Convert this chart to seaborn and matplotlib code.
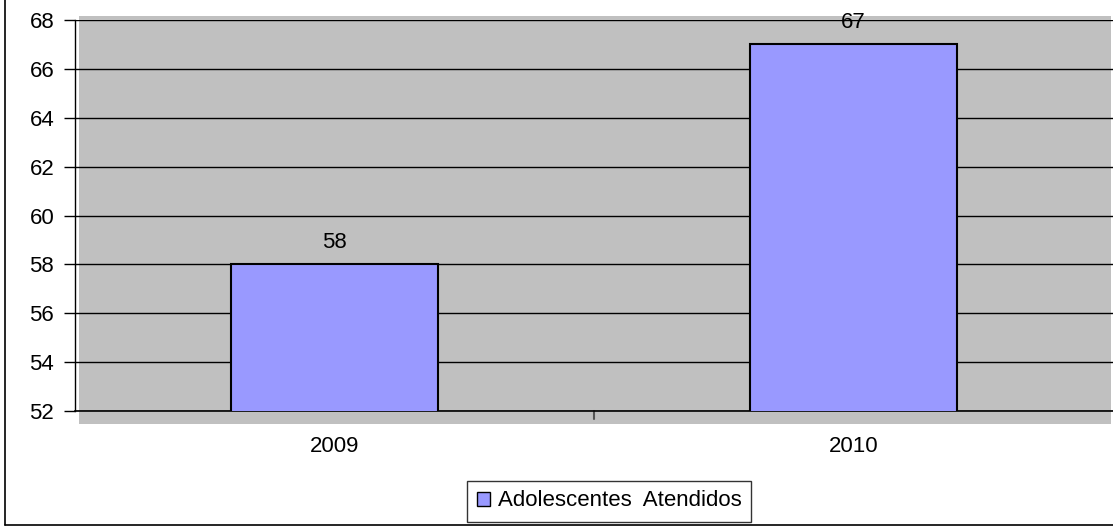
import pandas as pd
import matplotlib.pyplot as plt
import seaborn as sns
from matplotlib.patches import Rectangle, Patch
from matplotlib.lines import Line2D

years = ['2009', '2010']
atendidos = [58, 67]
series_name = 'Adolescentes  Atendidos'
y_ticks = [52, 54, 56, 58, 60, 62, 64, 66, 68]

sns.set_theme(style='white')
plt.rcParams['font.family'] = ['Liberation Sans', 'DejaVu Sans']
plt.rcParams['text.color'] = 'black'
plt.rcParams['xtick.color'] = 'black'
plt.rcParams['ytick.color'] = 'black'

W, H = 1113, 527
FS = 16
fig = plt.figure(figsize=(W / 100, H / 100), dpi=100)
fig.patch.set_facecolor('white')

def fx(px):
    return px / W

def fy(py):
    return 1 - py / H

# gray wall behind the plot (slightly offset, Excel style)
fig.add_artist(Rectangle((fx(79), fy(424)), fx(1111) - fx(79), fy(16) - fy(424),
                         transform=fig.transFigure, facecolor='#c0c0c0',
                         edgecolor='none', zorder=0))
# outer chart frame
fig.add_artist(Line2D([fx(5), fx(5)], [fy(0), fy(525)], transform=fig.transFigure,
                      color='black', lw=1.2))
fig.add_artist(Line2D([fx(5), fx(1113)], [fy(525), fy(525)], transform=fig.transFigure,
                      color='black', lw=1.2))

ax = fig.add_axes([fx(75), fy(411), fx(1113) - fx(75), fy(20) - fy(411)])
ax.set_facecolor('none')

df = pd.DataFrame({'year': years, 'value': atendidos})
sns.barplot(data=df, x='year', y='value', ax=ax, color='#9999ff',
            saturation=1, width=0.4, edgecolor='black', linewidth=1.5, zorder=3)

ax.set_ylim(52, 68)
ax.set_xlim(-0.5, 1.5)
ax.set_yticks(y_ticks)
ax.yaxis.grid(True, color='black', lw=1)
ax.set_axisbelow(True)
for sp in ['top', 'right']:
    ax.spines[sp].set_visible(False)
ax.spines['bottom'].set_color('black')
ax.spines['bottom'].set_linewidth(1.2)
ax.spines['left'].set_color('black')
ax.spines['left'].set_linewidth(1)
ax.tick_params(axis='y', left=True, length=8, width=1, color='black',
               labelsize=FS, pad=7)
ax.tick_params(axis='x', bottom=False, labelsize=FS, pad=12)
ax.set_xlabel('')
ax.set_ylabel('')

# middle category divider tick
ax.axvline(0.5, ymin=-0.02, ymax=0, color='#555555', lw=1.5, clip_on=False)

for c in ax.containers:
    ax.bar_label(c, labels=[str(v) for v in atendidos], padding=8, fontsize=FS)

fig.legend(handles=[Patch(facecolor='#9999ff', edgecolor='black', label=series_name)],
           loc='center', bbox_to_anchor=(fx(609), fy(501)), fontsize=FS,
           frameon=True, fancybox=False, edgecolor='black', handlelength=0.6,
           handleheight=0.6, handletextpad=0.35, borderpad=0.45, borderaxespad=0)
fig.legends[0].get_frame().set_linewidth(1)

fig.savefig('out.png', dpi=100)
